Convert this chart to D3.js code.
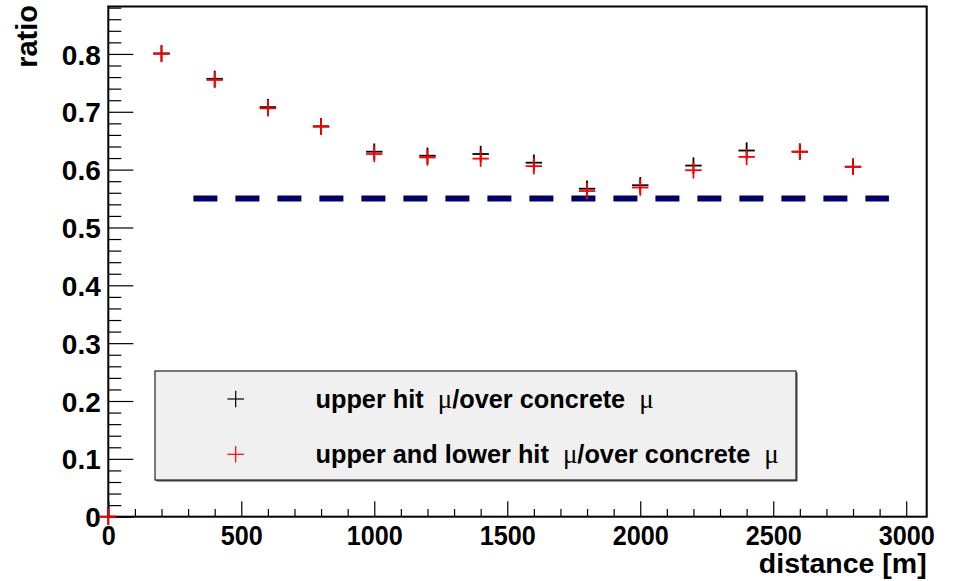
<!DOCTYPE html>
<html>
<head>
<meta charset="utf-8">
<script src="https://cdn.jsdelivr.net/npm/d3@7"></script>
<style>
  html, body { margin: 0; padding: 0; background: #fff; }
  svg { display: block; }
  text { font-family: "Liberation Sans", Arial, Helvetica, sans-serif; font-weight: bold; fill: #000; }
</style>
</head>
<body>
<svg id="chart" width="954" height="581"></svg>
<script>
// Distances (m) at which the ratios were measured
const distances = [0, 200, 400, 600, 800, 1000, 1200, 1400, 1600, 1800, 2000, 2200, 2400, 2600, 2800];
// upper hit mu / over concrete mu
const upperHit = [0, 0.801, 0.757, 0.708, 0.675, 0.631, 0.624, 0.627, 0.612, 0.567, 0.573, 0.607, 0.633, 0.631, 0.605];
// upper and lower hit mu / over concrete mu
const upperLowerHit = [0, 0.800, 0.755, 0.706, 0.674, 0.627, 0.621, 0.619, 0.606, 0.563, 0.569, 0.599, 0.622, 0.631, 0.605];
// Horizontal reference level and its extent
const refLevel = 0.55;
const refExtent = [320, 2935];

const xDomain = [0, 3077];
const yDomain = [0, 0.882];
const xMajorTicks = [0, 500, 1000, 1500, 2000, 2500, 3000];
const xTickLabels = ["0", "500", "1000", "1500", "2000", "2500", "3000"];
const yMajorTicks = [0, 0.1, 0.2, 0.3, 0.4, 0.5, 0.6, 0.7, 0.8];
const yTickLabels = ["0", "0.1", "0.2", "0.3", "0.4", "0.5", "0.6", "0.7", "0.8"];
const legendLabels = [
  ["upper hit", "/over concrete"],
  ["upper and lower hit", "/over concrete"]
];
const seriesColors = ["#000000", "#ff0000"];

const frame = { left: 108.3, top: 6.5, right: 926.7, bottom: 516.7 };
const svg = d3.select("#chart");

const x = d3.scaleLinear().domain(xDomain).range([frame.left, frame.right]);
const y = d3.scaleLinear().domain(yDomain).range([frame.bottom, frame.top]);

// Minor ticks
const xMinor = d3.range(0, xDomain[1] + 1, 100).filter(v => v % 500 !== 0);
const yMinor = d3.range(0, 89, 2).map(v => v / 100).filter(v => Math.round(v * 100) % 10 !== 0 && v <= yDomain[1]);

// X axis (ticks point up into the frame); labels drawn slightly condensed
const xAxis = d3.axisBottom(x).tickValues(xMajorTicks).tickSizeInner(-15.5).tickSizeOuter(0)
  .tickFormat((d, i) => xTickLabels[i]).tickPadding(0);
const gx = svg.append("g").attr("transform", `translate(0,${frame.bottom})`).call(xAxis);
gx.select(".domain").remove();
gx.selectAll(".tick line").attr("stroke", "#000").attr("stroke-width", 1.2);
gx.selectAll(".tick text").attr("font-size", 28).attr("dy", null).attr("y", 28.3)
  .attr("transform", "scale(0.9,1)");
const xMinorAxis = d3.axisBottom(x).tickValues(xMinor).tickSizeInner(-7.7).tickSizeOuter(0).tickFormat("");
const gxm = svg.append("g").attr("transform", `translate(0,${frame.bottom})`).call(xMinorAxis);
gxm.select(".domain").remove();
gxm.selectAll(".tick line").attr("stroke", "#000").attr("stroke-width", 1.2);

// Y axis (ticks point right into the frame)
const yAxis = d3.axisLeft(y).tickValues(yMajorTicks).tickSizeInner(-25).tickSizeOuter(0)
  .tickFormat((d, i) => yTickLabels[i]).tickPadding(0);
const gy = svg.append("g").attr("transform", `translate(${frame.left},0)`).call(yAxis);
gy.select(".domain").remove();
gy.selectAll(".tick line").attr("stroke", "#000").attr("stroke-width", 1.2);
gy.selectAll(".tick text").attr("font-size", 28).attr("x", -7.5).attr("dy", "0.36em");
const yMinorAxis = d3.axisLeft(y).tickValues(yMinor).tickSizeInner(-13).tickSizeOuter(0).tickFormat("");
const gym = svg.append("g").attr("transform", `translate(${frame.left},0)`).call(yMinorAxis);
gym.select(".domain").remove();
gym.selectAll(".tick line").attr("stroke", "#000").attr("stroke-width", 1.2);

// Frame
svg.append("rect")
  .attr("x", frame.left).attr("y", frame.top)
  .attr("width", frame.right - frame.left).attr("height", frame.bottom - frame.top)
  .attr("fill", "none").attr("stroke", "#000").attr("stroke-width", 2);

// Axis titles
svg.append("text")
  .attr("text-anchor", "end").attr("font-size", 28.5)
  .attr("x", frame.right).attr("y", 573)
  .text("distance [m]");
svg.append("text")
  .attr("text-anchor", "end").attr("font-size", 29)
  .attr("transform", "translate(36.5,5) rotate(-90)")
  .text("ratio");

// Dashed reference level
svg.append("line")
  .attr("x1", x(refExtent[0])).attr("x2", x(refExtent[1]))
  .attr("y1", y(refLevel)).attr("y2", y(refLevel))
  .attr("stroke", "#000066").attr("stroke-width", 6)
  .attr("stroke-dasharray", "24 18");

// Plus markers
function plus(g, cx, cy, half, color, width) {
  g.append("line").attr("x1", cx - half).attr("x2", cx + half).attr("y1", cy).attr("y2", cy)
    .attr("stroke", color).attr("stroke-width", width);
  g.append("line").attr("x1", cx).attr("x2", cx).attr("y1", cy - half).attr("y2", cy + half)
    .attr("stroke", color).attr("stroke-width", width);
}
const seriesList = [upperHit, upperLowerHit];
seriesList.forEach((vals, si) => {
  const g = svg.append("g");
  distances.forEach((d, i) => plus(g, x(d), y(vals[i]), 8.2, seriesColors[si], 1.8));
});

// Legend
const leg = { x: 155, y: 371, w: 641, h: 109 };
svg.append("rect")
  .attr("x", leg.x + 1.5).attr("y", leg.y + 1.5).attr("width", leg.w).attr("height", leg.h)
  .attr("fill", "#444");
svg.append("rect")
  .attr("x", leg.x).attr("y", leg.y).attr("width", leg.w).attr("height", leg.h)
  .attr("fill", "#f0f0f0").attr("stroke", "#333").attr("stroke-width", 1.3);

const rowY = [399, 454.3];
legendLabels.forEach((parts, i) => {
  plus(svg, 235.7, rowY[i], 8.3, seriesColors[i], 1.2);
  const t = svg.append("text")
    .attr("x", 315.5).attr("y", rowY[i] + 9)
    .attr("font-size", 25.3)
    .style("white-space", "pre");
  t.append("tspan").text(parts[0] + "  ");
  t.append("tspan").attr("font-family", "'Liberation Serif', 'DejaVu Serif', serif")
    .attr("font-weight", "normal").attr("font-size", 27).text("\u03bc");
  t.append("tspan").text(parts[1] + "  ");
  t.append("tspan").attr("font-family", "'Liberation Serif', 'DejaVu Serif', serif")
    .attr("font-weight", "normal").attr("font-size", 27).text("\u03bc");
});
</script>
</body>
</html>
